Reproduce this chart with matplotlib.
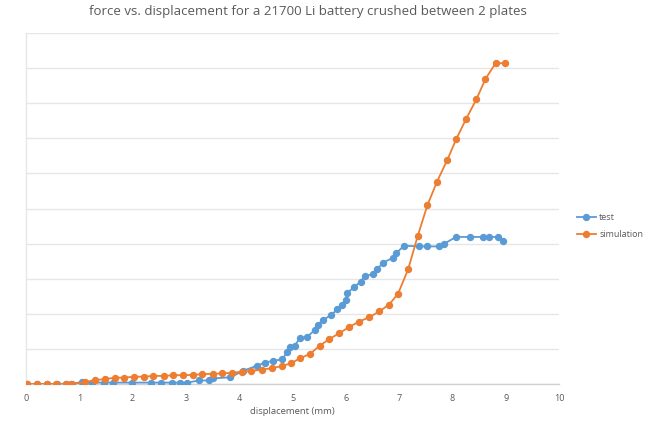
import matplotlib
matplotlib.use("Agg")
import matplotlib.pyplot as plt

# Measured crush test: displacement (mm) and force (gridline units)
test_x = [0.01, 0.21, 0.39, 0.58, 0.75, 0.84, 1.06, 1.23, 1.46, 1.64, 1.98, 2.34, 2.54,
          2.73, 2.88, 3.03, 3.24, 3.43, 3.50, 3.83, 4.08, 4.33, 4.48, 4.63, 4.80, 4.90,
          4.95, 5.04, 5.14, 5.28, 5.42, 5.48, 5.58, 5.73, 5.84, 5.92, 6.00, 6.03, 6.15,
          6.28, 6.36, 6.51, 6.59, 6.70, 6.88, 6.95, 7.09, 7.38, 7.53, 7.75, 7.85, 8.07,
          8.33, 8.58, 8.69, 8.86, 8.95]
test_y = [0.0, 0.0, 0.0, 0.0, 0.0, 0.0, 0.06, 0.04, 0.04, 0.04, 0.04, 0.04, 0.04,
          0.04, 0.04, 0.04, 0.10, 0.10, 0.16, 0.19, 0.38, 0.52, 0.61, 0.66, 0.70, 0.90,
          1.05, 1.09, 1.31, 1.35, 1.54, 1.69, 1.83, 1.97, 2.13, 2.26, 2.40, 2.60, 2.75,
          2.92, 3.08, 3.13, 3.27, 3.46, 3.59, 3.73, 3.94, 3.92, 3.92, 3.92, 4.00, 4.19,
          4.19, 4.19, 4.19, 4.19, 4.06]

# Simulation results
sim_x = [0.01, 0.20, 0.39, 0.57, 0.75, 0.87, 1.10, 1.29, 1.48, 1.67, 1.84, 2.03, 2.21,
         2.39, 2.58, 2.76, 2.95, 3.13, 3.31, 3.50, 3.68, 3.86, 4.05, 4.23, 4.42, 4.61,
         4.80, 4.97, 5.14, 5.33, 5.51, 5.69, 5.88, 6.06, 6.25, 6.44, 6.63, 6.81, 6.98,
         7.17, 7.35, 7.53, 7.71, 7.90, 8.07, 8.26, 8.45, 8.62, 8.81, 8.99]
sim_y = [0.0, 0.0, 0.0, 0.0, 0.0, 0.0, 0.05, 0.11, 0.14, 0.18, 0.18, 0.21, 0.21,
         0.23, 0.23, 0.25, 0.25, 0.26, 0.28, 0.29, 0.30, 0.32, 0.35, 0.37, 0.41, 0.45,
         0.51, 0.59, 0.73, 0.86, 1.09, 1.28, 1.45, 1.62, 1.78, 1.90, 2.07, 2.26, 2.57,
         3.27, 4.22, 5.09, 5.76, 6.37, 6.97, 7.56, 8.11, 8.69, 9.14, 9.14]

x_ticks = list(range(0, 11))

BLUE = "#5b9bd5"
ORANGE = "#ed7d31"
TEXT = "#595959"
GRID = "#e6e6e6"

plt.rcParams["font.family"] = ["Open Sans", "DejaVu Sans"]

fig = plt.figure(figsize=(6.53, 4.21), dpi=100)
ax = fig.add_axes([26 / 653, 37 / 421, 533 / 653, 351 / 421])

ax.plot(test_x, test_y, color=BLUE, lw=1.3, marker="o", ms=4.3, mec=BLUE, label="test", zorder=3)
ax.plot(sim_x, sim_y, color=ORANGE, lw=1.3, marker="o", ms=4.3, mec=ORANGE, label="simulation", zorder=3)

ax.set_xlim(0, 10)
ax.set_ylim(0, 10)
ax.set_xticks(x_ticks)
ax.set_yticks(range(0, 11))
ax.set_yticklabels([])
ax.tick_params(axis="both", length=0, colors=TEXT, labelsize=6.5)
ax.tick_params(axis="x", pad=7)
ax.grid(axis="y", color=GRID, lw=1.0)
ax.set_axisbelow(True)

for side in ("top", "right"):
    ax.spines[side].set_visible(False)
ax.spines["left"].set_color(GRID)
ax.spines["left"].set_linewidth(1.0)
ax.spines["bottom"].set_color("#d0d0d0")
ax.spines["bottom"].set_linewidth(1.0)

ax.set_xlabel("displacement (mm)", color=TEXT, fontsize=6.8, labelpad=3)

fig.text(308 / 653, 1 - 12 / 421, "force vs. displacement for a 21700 Li battery crushed between 2 plates",
         ha="center", va="center", color=TEXT, fontsize=9.5)

leg = fig.legend(loc="center left", bbox_to_anchor=(572 / 653, 1 - 226 / 421), frameon=False,
                 fontsize=6.5, handlelength=2.2, handletextpad=0.3, labelspacing=0.9,
                 borderpad=0, markerscale=1.0)
for t in leg.get_texts():
    t.set_color(TEXT)

fig.savefig("out.png", dpi=100)
